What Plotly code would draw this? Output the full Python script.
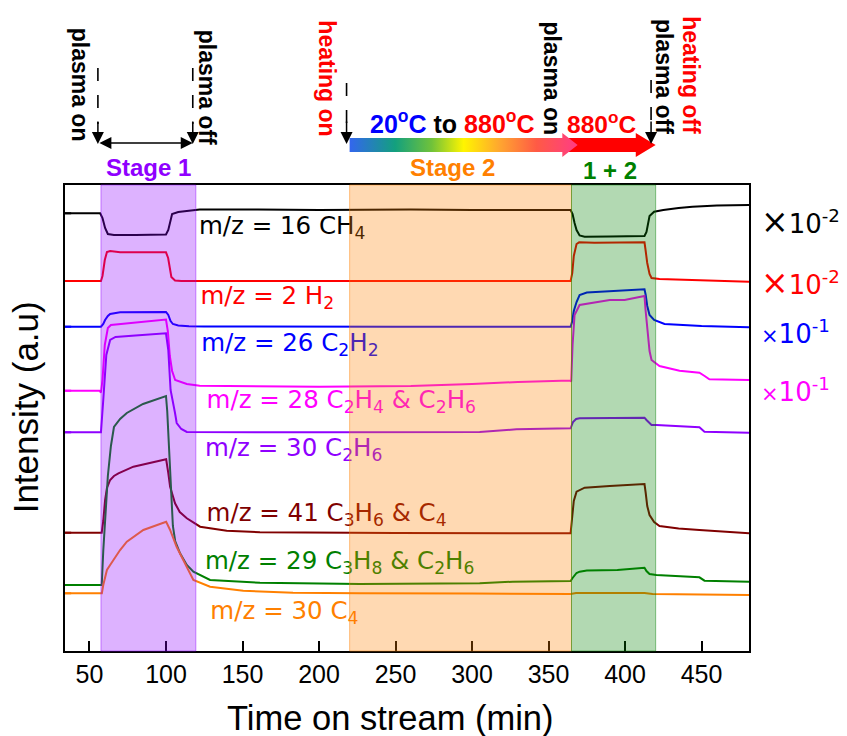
import plotly.graph_objects as go

# ---------------------------------------------------------------- data ---
# stage windows (min)
stage1 = [57.5, 119.5]      # plasma only
stage2 = [220.0, 365.0]     # heating ramp 20 -> 880 C
stage12 = [365.0, 420.0]    # plasma + 880 C

time_ticks = [50, 100, 150, 200, 250, 300, 350, 400, 450]
x_range = [34, 481]
y_range = [0, 466]

# offset-stacked MS intensities (a.u.) vs time on stream (min)
t_ch4 = [34, 57, 58.5, 60.2, 62, 66, 80, 100, 101.5, 102.5, 104, 108, 115, 122, 160, 200,
         260, 300, 364.4, 365.7, 367, 368.3, 370.3, 373.6, 390, 412.7, 414, 415, 416, 419,
         425, 435, 444, 460, 481]
i_ch4 = [437.7, 437.7, 433, 423, 417, 416, 416, 416.5, 421, 428, 437, 439, 440.5, 441.5,
         441.5, 441, 441.5, 441, 441, 437, 428, 421, 415.5, 414.3, 414.5, 415, 419, 427,
         435, 439.3, 441, 443, 444.3, 445.5, 446]

t_h2 = [34, 57.5, 58.5, 60, 61.4, 63.5, 70, 85, 100, 101.4, 102.5, 103.5, 105.9, 110, 150,
        250, 364.4, 365.5, 366.5, 368.3, 370, 380, 395, 412.7, 413.4, 414.5, 416, 417.3,
        422.5, 450, 481]
i_h2 = [370, 370, 375, 391, 399, 400, 398.7, 398.5, 398.7, 393, 382, 374, 370.5, 370, 370,
        370, 370, 378, 395, 407, 408.7, 408.2, 408.5, 408.7, 401, 388, 377, 373, 372,
        370.5, 369.3]

t_c2h2 = [34, 57.5, 59, 60.2, 62, 63.5, 70, 85, 100, 101.5, 103, 104.5, 108, 115, 125, 250,
          364.4, 365.5, 366.5, 368.3, 370.3, 375, 390, 405, 412.7, 413.5, 414.5, 416, 419,
          425.8, 450, 481]
i_c2h2 = [324.3, 324.3, 327, 331, 335, 337, 338.7, 338.7, 339, 336, 330, 327, 325.5, 324.8,
          324.5, 324.3, 324.3, 330, 340, 349, 356, 358.5, 360, 361, 361.7, 356, 345, 336,
          331, 327, 325, 323.7]

t_m28 = [34, 56.5, 57.5, 58.5, 60, 62, 64, 70, 85, 100, 101.2, 102.5, 104, 106, 113.6, 122,
         200, 260, 300, 330, 364, 364.8, 365.7, 367, 370.3, 383.4, 390, 399.7, 412.7, 413.4,
         414.5, 416, 417.3, 422.5, 435.6, 448.6, 452, 455.1, 481]
i_m28 = [260.3, 260.3, 258.5, 271, 306, 323, 326, 327, 329, 331.5, 320, 295, 280, 271, 267,
         265.3, 264.3, 265, 267, 269, 270.5, 269.5, 306, 336, 346, 349.3, 351, 351, 355, 341,
         320, 300, 291, 285, 280.3, 278.3, 275, 271.7, 271]

t_m30 = [34, 57.5, 59, 61, 63.5, 67, 80, 100, 101.5, 103, 105.9, 107, 110, 113.6, 200, 305,
         329, 364.4, 366, 368, 370.3, 390, 412.7, 414, 417.3, 420.4, 448.6, 451.9, 481]
i_m30 = [218.7, 218.7, 251, 296, 311, 314, 315.5, 317.7, 301, 261, 238, 228, 222, 219,
         218.7, 219, 221.7, 222.7, 229, 232, 232.7, 233, 233.3, 231, 226, 226, 223.7, 219.3,
         218.3]

t_m41 = [34, 58, 59, 60.2, 61.4, 63.5, 66, 68.9, 78.7, 90, 100.1, 101.5, 102.7, 105.9, 109,
         113.6, 122.3, 139.7, 161.4, 250, 364.4, 365.2, 366.5, 368.3, 373.6, 390, 409.5,
         412.7, 413.5, 414.5, 416, 419, 422.5, 435, 448.6, 481]
i_m41 = [118.3, 118.3, 130, 151, 163, 171, 175, 177.7, 184.3, 188.5, 191.7, 178, 164.3,
         147.7, 139, 132.7, 124.3, 120.3, 118.7, 118, 117.7, 130, 150, 159.3, 163.3, 165,
         167, 167, 158, 145, 136, 129, 125, 122.5, 121, 117.7]

t_m29 = [34, 58, 59, 60.5, 62, 64, 66, 70, 74.4, 85, 100, 100.8, 102, 103.5, 104.5, 106,
         109.2, 113.6, 117.9, 128.8, 161.4, 226.7, 305, 326.6, 364.4, 365.7, 368.3, 370.3,
         375, 395, 410, 412.7, 414, 416, 420.4, 448.6, 451.9, 481]
i_m29 = [66, 66, 100, 140, 175, 205, 224, 232, 238, 247, 255, 240, 200, 150, 125, 110, 97.7,
         86, 79.3, 71, 68.3, 67, 67.7, 69.3, 70, 73, 78, 79.3, 80.5, 81, 83.3, 83.3, 80, 77,
         76, 73.7, 70.3, 69.3]

t_c4 = [34, 58.1, 59, 60.2, 61.4, 63.5, 65.7, 70, 74.4, 85.2, 100.1, 102.7, 107, 111.4,
        117.9, 128.8, 150.5, 183, 226.7, 300, 364.4, 368, 390, 412.7, 418, 450, 481]
i_c4 = [57.7, 57.7, 66, 74.3, 81, 86, 91, 101, 109.3, 121, 129.3, 121, 104, 91, 71, 64.3,
        60.3, 58.3, 57.7, 57.5, 57, 58, 58.2, 58, 57, 56.5, 56]

series = [
    dict(t=t_ch4, i=i_ch4, color="#000000", label="m/z = 16 CH<sub>4</sub>"),
    dict(t=t_h2, i=i_h2, color="#FF0000", label="m/z = 2 H<sub>2</sub>"),
    dict(t=t_c2h2, i=i_c2h2, color="#0000FF", label="m/z = 26 C<sub>2</sub>H<sub>2</sub>"),
    dict(t=t_m28, i=i_m28, color="#FF00FF",
         label="m/z = 28 C<sub>2</sub>H<sub>4</sub> &amp; C<sub>2</sub>H<sub>6</sub>"),
    dict(t=t_m30, i=i_m30, color="#8F00FF", label="m/z = 30 C<sub>2</sub>H<sub>6</sub>"),
    dict(t=t_m41, i=i_m41, color="#800000",
         label="m/z = 41 C<sub>3</sub>H<sub>6</sub> &amp; C<sub>4</sub>"),
    dict(t=t_m29, i=i_m29, color="#008000",
         label="m/z = 29 C<sub>3</sub>H<sub>8</sub> &amp; C<sub>2</sub>H<sub>6</sub>"),
    dict(t=t_c4, i=i_c4, color="#FF8000", label="m/z = 30 C<sub>4</sub>"),
]

# where each curve name sits (time, intensity)
label_at = [(121.5, 423), (122.5, 353), (123, 306), (126.5, 249), (125.5, 201),
            (126.5, 136), (125.5, 88), (129, 38)]

# scale factors written beside the four upper traces (intensity of the text line)
scale_notes = [("×10<sup>-2</sup>", "#000000", 429, 33),
               ("×10<sup>-2</sup>", "#FF0000", 369, 33),
               ("×10<sup>-1</sup>", "#0000FF", 319, 21),
               ("×10<sup>-1</sup>", "#FF00FF", 261, 21)]

FONT = "Liberation Sans, Arial, Helvetica, sans-serif"
LABEL_FONT = "DejaVu Sans, Verdana, sans-serif"

fig = go.Figure()

# ----------------------------------------------------------- main traces ---
for s in series:
    fig.add_trace(go.Scatter(x=s["t"], y=s["i"], mode="lines",
                             line=dict(color=s["color"], width=2),
                             hoverinfo="skip", showlegend=False))

for s, (lx, ly) in zip(series, label_at):
    fig.add_trace(go.Scatter(x=[lx], y=[ly], mode="text", text=[s["label"]],
                             textposition="middle right",
                             textfont=dict(family=LABEL_FONT, size=24.5, color=s["color"]),
                             hoverinfo="skip", showlegend=False))

shapes = []
# short coloured ticks on the left axis at each trace's starting level
for s in series:
    shapes.append(dict(type="line", xref="x domain", yref="y", x0=0, x1=0.009,
                       y0=s["i"][0], y1=s["i"][0],
                       line=dict(color=s["color"], width=2), layer="above"))

# translucent stage bands drawn over the traces
for (a, b), rgb in [(stage1, "143,0,255"), (stage2, "255,128,0"), (stage12, "0,128,0")]:
    shapes.append(dict(type="rect", xref="x", yref="y domain", x0=a, x1=b, y0=0, y1=1,
                       fillcolor=f"rgba({rgb},0.3)",
                       line=dict(color=f"rgba({rgb},0.45)", width=1), layer="above"))

# ----------------------------------------------- top band: event markers ---
# the band above the frame uses its own axes: x in minutes, y in px from the top
arrow_y, body_half, head_half = 145, 7, 12


def arrow_outline(t0, t1, head_len):
    xs = [t0, t1 - head_len, t1 - head_len, t1, t1 - head_len, t1 - head_len, t0, t0]
    ys = [arrow_y - body_half, arrow_y - body_half, arrow_y - head_half, arrow_y,
          arrow_y + head_half, arrow_y + body_half, arrow_y + body_half, arrow_y - body_half]
    return xs, ys


rx, ry = arrow_outline(stage12[0] - 3, stage12[1], 13)
fig.add_trace(go.Scatter(x=rx, y=ry, xaxis="x2", yaxis="y2", mode="lines", fill="toself",
                         fillcolor="#FF0000", line=dict(width=0), hoverinfo="skip",
                         showlegend=False))
gx, gy = arrow_outline(stage2[0], stage2[1] + 4, 10)
fig.add_trace(go.Scatter(
    x=gx, y=gy, xaxis="x2", yaxis="y2", mode="lines", fill="toself",
    fillgradient=dict(type="horizontal",
                      colorscale=[[0, "#3366EE"], [0.2, "#13A07E"], [0.36, "#70C23A"],
                                  [0.5, "#FFF500"], [0.66, "#FFA530"], [0.82, "#FF5A45"],
                                  [1, "#FF3C85"]]),
    line=dict(width=0), hoverinfo="skip", showlegend=False))

# dashed drop lines with arrow heads at the plasma / heating switch points
event_arrows = [(stage1[0] - 2, 68), (stage1[1] - 2, 68), (stage2[0] - 2, 83),
                (stage12[1] - 3, 80)]
for te, ytop in event_arrows:
    fig.add_trace(go.Scatter(x=[te, te], y=[ytop, 124], xaxis="x2", yaxis="y2",
                             mode="lines", line=dict(color="black", width=1.6,
                                                     dash="13px,14px"),
                             hoverinfo="skip", showlegend=False))

annotations = []
for te, _ in event_arrows:
    annotations.append(dict(x=te, y=144, ax=te, ay=120, xref="x2", yref="y2",
                            axref="x2", ayref="y2", text="", showarrow=True,
                            arrowhead=2, arrowsize=1.6, arrowwidth=1.5,
                            arrowcolor="black"))
annotations.append(dict(x=stage1[1] - 2, y=143, ax=stage1[0] - 2, ay=143, xref="x2",
                        yref="y2", axref="x2", ayref="y2", text="", showarrow=True,
                        arrowside="end+start", arrowhead=2, arrowsize=1.6,
                        arrowwidth=1.5, arrowcolor="black"))


def note(text, t, y, color="black", size=23, angle=0):
    annotations.append(dict(x=t, y=y, xref="x2", yref="y2", text=text, showarrow=False,
                            textangle=angle, xanchor="center", yanchor="middle",
                            font=dict(family=FONT, size=size, color=color)))


note("<b>plasma on</b>", stage1[0] - 13.5, 85, angle=90)
note("<b>plasma off</b>", stage1[1] + 7.5, 87, angle=90)
note("<b>heating on</b>", stage2[0] - 15, 78, color="#FF0000", angle=90)
note("<b>plasma on</b>", stage2[1] - 13, 78, angle=90)
note("<b>plasma off</b>", stage12[1] + 5.5, 76, angle=90)
note("<b>heating off</b>", stage12[1] + 23, 75, color="#FF0000", angle=90)
note("<b><span style='color:#0000FF'>20<sup>o</sup>C</span> to "
     "<span style='color:#FF0000'>880<sup>o</sup>C</span></b>",
     (stage2[0] + stage2[1]) / 2 - 5, 122, size=25)
note("<b>880<sup>o</sup>C</b>", (stage12[0] + stage12[1]) / 2 - 8, 122, color="#FF0000",
     size=24.5)
note("<b>Stage 1</b>", (stage1[0] + stage1[1]) / 2, 167, color="#8F00FF", size=24)
note("<b>Stage 2</b>", (stage2[0] + stage2[1]) / 2 - 5, 167, color="#FF8000", size=24)
note("<b>1 + 2</b>", (stage12[0] + stage12[1]) / 2 - 2.5, 170, color="#008000", size=24)

# scale factors on the right
for txt, col, yv, xsize in scale_notes:
    head, tail = txt.split("10", 1)
    annotations.append(dict(
        x=1.014, y=yv, xref="paper", yref="y", xanchor="left", yanchor="middle",
        text=f"<span style='font-size:{xsize}px'>{head}</span>10{tail}", showarrow=False,
        font=dict(family=LABEL_FONT, size=26, color=col)))

# axis titles
annotations.append(dict(x=-0.058, y=244, xref="paper", yref="y", text="Intensity (a.u)",
                        textangle=-90, showarrow=False, xanchor="center", yanchor="middle",
                        font=dict(family=FONT, size=35, color="black")))
annotations.append(dict(x=0.4766, y=-67 / 651, xref="paper", yref="paper",
                        text="Time on stream (min)", showarrow=False, xanchor="center",
                        yanchor="middle", font=dict(family=FONT, size=34.5, color="black")))

plot_frac = 466 / 651
fig.update_layout(
    width=847, height=736,
    margin=dict(l=65, r=98, t=0, b=85),
    plot_bgcolor="white", paper_bgcolor="white",
    font=dict(family=FONT, color="black"),
    showlegend=False,
    shapes=shapes, annotations=annotations,
    xaxis=dict(range=x_range, domain=[0, 1], anchor="y", tickvals=time_ticks,
               ticks="inside", ticklen=10, tickwidth=1.5, tickcolor="black",
               showline=True, linewidth=2, linecolor="black", mirror=True,
               showgrid=False, zeroline=False, tickfont=dict(family=FONT, size=25),
               ticklabelstandoff=0),
    yaxis=dict(range=y_range, domain=[0, plot_frac], anchor="x", showticklabels=False,
               ticks="", showline=True, linewidth=2, linecolor="black", mirror=True,
               showgrid=False, zeroline=False),
    xaxis2=dict(range=x_range, domain=[0, 1], anchor="y2", visible=False),
    yaxis2=dict(range=[185, 0], domain=[plot_frac, 1], anchor="x2", visible=False),
)

fig.write_html("out.html")
